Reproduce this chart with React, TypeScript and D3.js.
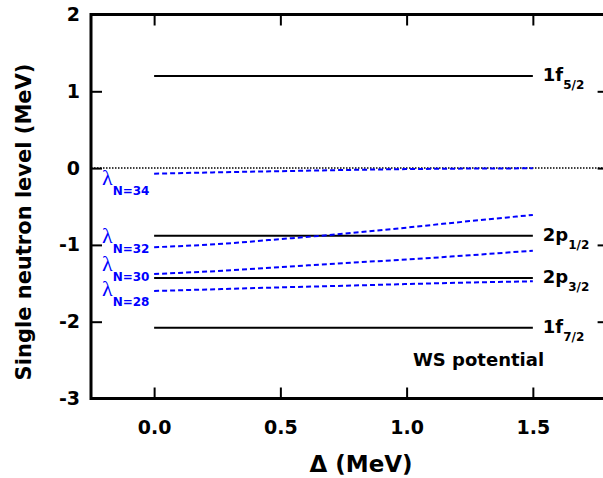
import React, { useEffect, useRef } from "react"
import * as d3 from "d3"

// x grid shared by all the lambda curves (MeV)
const deltaGrid = [0, 0.25, 0.5, 0.75, 1.0, 1.25, 1.5]

const lambdaN34 = [-0.073, -0.055, -0.04, -0.025, -0.013, -0.006, -0.003]
const lambdaN32 = [-1.03, -0.99, -0.925, -0.855, -0.775, -0.69, -0.61]
const lambdaN30 = [-1.38, -1.34, -1.29, -1.237, -1.19, -1.135, -1.075]
const lambdaN28 = [-1.6, -1.577, -1.553, -1.532, -1.51, -1.49, -1.474]
const lambdaNames = ["N=34", "N=32", "N=30", "N=28"]

// Woods-Saxon single particle levels
const levelNames = ["1f", "2p", "2p", "1f"]
const levelSubs = ["5/2", "1/2", "3/2", "7/2"]
const levelValues = [1.2, -0.88, -1.43, -2.08]
const levelRange = [0, 1.5]

const xTicks = [0, 0.5, 1.0, 1.5]
const yTicks = [-3, -2, -1, 0, 1, 2]

const W = 603
const H = 478
const margin = { left: 91, top: 14.5, right: 608.6, bottom: 398.5 }
const FONT = "'DejaVu Sans', sans-serif"

export default function App() {
  const ref = useRef<SVGSVGElement>(null)

  useEffect(() => {
    const svg = d3.select(ref.current)
    svg.selectAll("*").remove()

    const x = d3.scaleLinear().domain([-0.25, 1.8]).range([margin.left, margin.right])
    const y = d3.scaleLinear().domain([-3, 2]).range([margin.bottom, margin.top])

    // zero line
    svg
      .append("line")
      .attr("x1", margin.left)
      .attr("x2", margin.right)
      .attr("y1", y(0))
      .attr("y2", y(0))
      .attr("stroke", "#000")
      .attr("stroke-width", 1.5)
      .attr("stroke-dasharray", "1.5,1.5")

    // levels
    const lev = svg.append("g")
    levelValues.forEach((v, i) => {
      lev
        .append("line")
        .attr("x1", x(levelRange[0]))
        .attr("x2", x(levelRange[1]))
        .attr("y1", y(v))
        .attr("y2", y(v))
        .attr("stroke", "#000")
        .attr("stroke-width", 2)
      const t = lev
        .append("text")
        .attr("x", x(levelRange[1]) + 10)
        .attr("y", y(v) + 5)
        .attr("font-family", FONT)
        .attr("font-weight", "bold")
        .attr("font-size", 18)
      t.append("tspan").text(levelNames[i])
      t.append("tspan").attr("dy", 8).attr("font-size", 12).text(levelSubs[i])
    })

    // lambda curves
    const line = d3
      .line<number>()
      .x((d, i) => x(deltaGrid[i]))
      .y(d => y(d))
      .curve(d3.curveMonotoneX)
    const curves = [lambdaN34, lambdaN32, lambdaN30, lambdaN28]
    curves.forEach(c => {
      svg
        .append("path")
        .attr("d", line(c))
        .attr("fill", "none")
        .attr("stroke", "#0000ff")
        .attr("stroke-width", 2)
        .attr("stroke-dasharray", "5,3")
    })

    // lambda labels, left of the curves
    const labelBase = [185, 243, 271, 296]
    lambdaNames.forEach((n, i) => {
      const t = svg
        .append("text")
        .attr("x", 102)
        .attr("y", labelBase[i])
        .attr("fill", "#0000ff")
      t.append("tspan")
        .attr("font-family", "'Liberation Serif', serif")
        .attr("font-size", 22)
        .text("λ")
      t.append("tspan")
        .attr("dy", 10)
        .attr("font-family", FONT)
        .attr("font-weight", "bold")
        .attr("font-size", 12)
        .text(n)
    })

    svg
      .append("text")
      .attr("x", 413)
      .attr("y", 366)
      .attr("font-family", FONT)
      .attr("font-weight", "bold")
      .attr("font-size", 18)
      .text("WS potential")

    // axes
    const styleAxis = (g: any) => {
      g.select(".domain").remove()
      g.selectAll(".tick line").attr("stroke-width", 2)
      g.attr("font-family", FONT).attr("font-size", 19).attr("font-weight", "bold")
    }
    svg
      .append("g")
      .attr("transform", `translate(0,${margin.bottom})`)
      .call(d3.axisBottom(x).tickValues(xTicks).tickSize(-11).tickPadding(22).tickFormat(d3.format(".1f")))
      .call(styleAxis)
    svg
      .append("g")
      .attr("transform", `translate(0,${margin.top})`)
      .call(d3.axisTop(x).tickValues(xTicks).tickSize(-11).tickFormat(() => ""))
      .call(styleAxis)
    svg
      .append("g")
      .attr("transform", `translate(${margin.left},0)`)
      .call(d3.axisLeft(y).tickValues(yTicks).tickSize(-11).tickPadding(11).tickFormat(d => String(d)))
      .call(styleAxis)
    svg
      .append("g")
      .attr("transform", `translate(${margin.right},0)`)
      .call(d3.axisRight(y).tickValues(yTicks).tickSize(-11).tickFormat(() => ""))
      .call(styleAxis)

    svg
      .append("rect")
      .attr("x", margin.left)
      .attr("y", margin.top)
      .attr("width", margin.right - margin.left)
      .attr("height", margin.bottom - margin.top)
      .attr("fill", "none")
      .attr("stroke", "#000")
      .attr("stroke-width", 3)

    // titles
    svg
      .append("text")
      .attr("transform", "translate(31,222) rotate(-90)")
      .attr("text-anchor", "middle")
      .attr("font-family", FONT)
      .attr("font-weight", "bold")
      .attr("font-size", 21)
      .text("Single neutron level (MeV)")
    svg
      .append("text")
      .attr("x", 361)
      .attr("y", 472)
      .attr("text-anchor", "middle")
      .attr("font-family", FONT)
      .attr("font-weight", "bold")
      .attr("font-size", 23)
      .text("Δ (MeV)")
  }, [])

  return (
    <svg
      ref={ref}
      width={W}
      height={H}
      style={{ position: "absolute", left: 0, top: 0, background: "#fff" }}
    />
  )
}
